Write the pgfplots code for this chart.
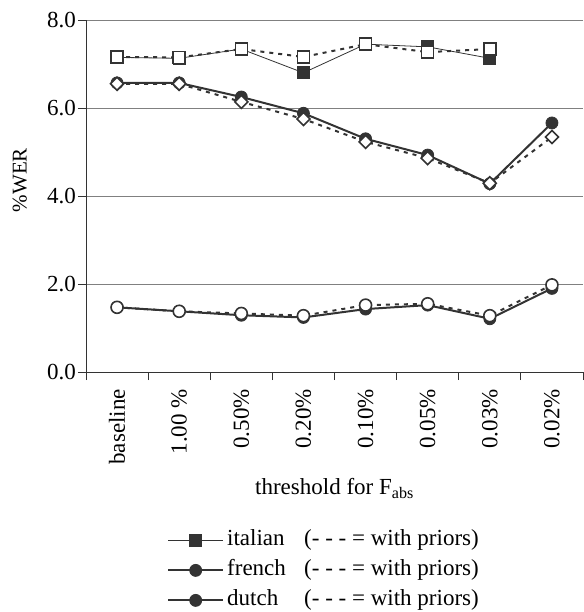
\documentclass[border=0pt]{standalone}
\usepackage{pgfplots}
\pgfplotsset{compat=1.18}
\usepackage{fontspec}
\setmainfont{Liberation Serif}
\definecolor{ink}{HTML}{333333}
\definecolor{gridc}{HTML}{808080}
\begin{document}
\begin{tikzpicture}[font=\fontsize{23}{27}\selectfont]
\path[use as bounding box] (-86pt,-240pt) rectangle (497pt,372pt);
\begin{axis}[
  scale only axis, width=497pt, height=352pt,
  at={(0pt,0pt)}, anchor=south west,
  xmin=-0.5, xmax=7.5, ymin=0, ymax=8,
  clip=false,
  axis x line*=bottom, axis y line*=left,
  axis line style={draw=ink, line width=0.9pt},
  ytick={0,2,...,8},
  ymajorgrids, grid style={gridc, line width=0.9pt},
  /pgf/number format/fixed, /pgf/number format/fixed zerofill,
  /pgf/number format/precision=1, /pgf/number format/assume math mode=true,
  xtick={0,...,7},
  xticklabels={baseline, 1.00 \%, 0.50\%, 0.20\%, 0.10\%, 0.05\%, 0.03\%, 0.02\%},
  xticklabel style={rotate=90, anchor=east, inner xsep=9pt, inner ysep=2pt},
  yticklabel style={inner sep=2pt},
  major x tick style={draw=none},
  minor xtick={-0.5,0.5,...,7.5},
  tick align=outside, major tick length=8pt, minor tick length=8pt,
  tick style={draw=ink, line width=0.9pt},
  minor x tick style={draw=ink, line width=0.9pt},
  xlabel={threshold for F\textsubscript{abs}},
  xlabel style={at={(axis description cs:0.5,-0.33)}, anchor=center},
  ylabel={\fontsize{21}{25}\selectfont\%WER},
  ylabel style={at={(axis description cs:-0.133,0.545)}, anchor=center},
  legend style={draw=none, fill=none, at={(axis description cs:0.163,-0.448)}, anchor=north west,
    inner sep=0pt, row sep=9pt, column sep=0pt,
    nodes={inner ysep=0pt, inner xsep=3pt, text height=16pt, text depth=5pt}},
  legend cell align=left,
  legend image code/.code={\draw[mark repeat=2,mark phase=2] plot coordinates {(0pt,0pt) (27.5pt,0pt) (55pt,0pt)};},
]
% without priors
\addplot[ink, line width=0.8pt, mark=square*, mark size=6pt, mark options={solid, fill=ink}]
  coordinates {(0,7.15) (1,7.13) (2,7.34) (3,6.80) (4,7.45) (5,7.39) (6,7.13)};
\addlegendentry{\makebox[77pt][l]{italian}(- - - = with priors)}
\addplot[ink, line width=2pt, mark=*, mark size=6pt, mark options={solid, fill=ink, line width=0.8pt}]
  coordinates {(0,6.57) (1,6.57) (2,6.25) (3,5.88) (4,5.30) (5,4.93) (6,4.28) (7,5.66)};
\addlegendentry{\makebox[77pt][l]{french}(- - - = with priors)}
\addplot[ink, line width=2pt, mark=*, mark size=6pt, mark options={solid, fill=ink, line width=0.8pt}]
  coordinates {(0,1.47) (1,1.38) (2,1.29) (3,1.24) (4,1.43) (5,1.52) (6,1.21) (7,1.90)};
\addlegendentry{\makebox[77pt][l]{dutch}(- - - = with priors)}
% with priors
\addplot[ink, line width=2pt, dash pattern=on 4pt off 5pt, mark=square*, mark size=6pt,
  mark options={solid, fill=white, line width=1.6pt}, forget plot]
  coordinates {(0,7.16) (1,7.15) (2,7.34) (3,7.16) (4,7.45) (5,7.27) (6,7.34)};
\addplot[ink, line width=2pt, dash pattern=on 4pt off 5pt, mark=square*, mark size=4.6pt,
  mark options={solid, fill=white, line width=1.6pt, rotate=45}, forget plot]
  coordinates {(0,6.55) (1,6.55) (2,6.14) (3,5.75) (4,5.23) (5,4.86) (6,4.29) (7,5.34)};
\addplot[ink, line width=2pt, dash pattern=on 4pt off 5pt, mark=*, mark size=6pt,
  mark options={solid, fill=white, line width=1.6pt}, forget plot]
  coordinates {(0,1.47) (1,1.38) (2,1.33) (3,1.28) (4,1.52) (5,1.55) (6,1.28) (7,1.98)};
\end{axis}
\end{tikzpicture}
\end{document}
